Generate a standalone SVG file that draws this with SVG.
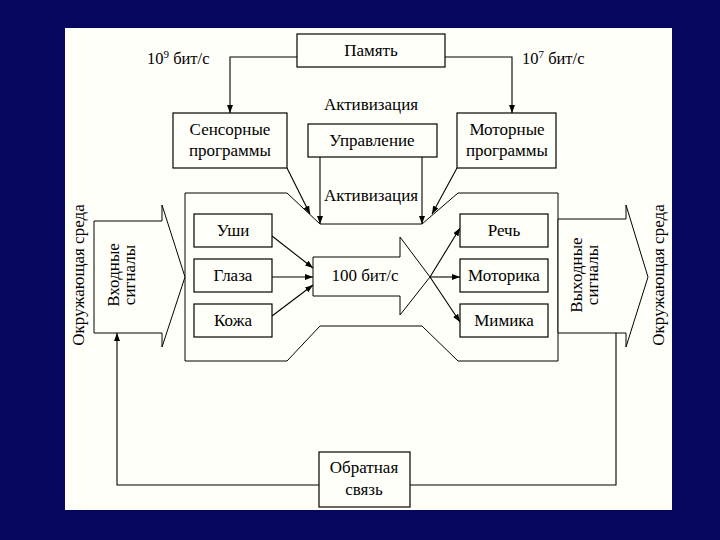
<svg xmlns="http://www.w3.org/2000/svg" width="720" height="540" viewBox="0 0 720 540">
<defs>
<marker id="ah" markerWidth="8" markerHeight="6" refX="8" refY="3" orient="auto" markerUnits="userSpaceOnUse">
<path d="M0,0 L8,3 L0,6 z" fill="#000"/>
</marker>
<style>
.bx{fill:#fffffa;stroke:#000;stroke-width:1.2}
.sh{fill:#fffffa;stroke:#000;stroke-width:1}
.ln{fill:none;stroke:#000;stroke-width:1.1}
.t{font-family:"Liberation Serif","DejaVu Serif",serif;font-size:17px;fill:#000;text-anchor:middle;dominant-baseline:central}
.ts{font-family:"Liberation Serif","DejaVu Serif",serif;font-size:16.5px;fill:#000}
</style>
</defs>
<rect x="0" y="0" width="720" height="540" fill="#06065e"/>
<rect x="65" y="28" width="607" height="482" fill="#fffffa"/>

<g id="shapes">
<polygon class="sh" points="185,193 287,193 320,224 422,224 458,193 558,193 558,361 458,361 422,326 320,326 287,361 185,361"/>
<polygon class="sh" points="94,221 162,221 162,205 185,277 162,347 162,333 94,333" stroke-width="1.3"/>
<polygon class="sh" points="558,219 626,219 626,205 648,277 626,347 626,333 558,333" stroke-width="1.3"/>
<polygon class="sh" points="313,257 400,257 400,237 430,277 400,315 400,296 313,296" stroke-width="1.3"/>
</g>

<g id="connectors">
<polyline class="ln" points="297,57 230,57 230,113" marker-end="url(#ah)"/>
<polyline class="ln" points="445,57 512,57 512,113" marker-end="url(#ah)"/>
<line class="ln" x1="287" y1="168" x2="310" y2="214" marker-end="url(#ah)"/>
<line class="ln" x1="457" y1="168" x2="432" y2="214" marker-end="url(#ah)"/>
<line class="ln" x1="320" y1="157" x2="320" y2="224" stroke-width="1.6" marker-end="url(#ah)"/>
<line class="ln" x1="422" y1="157" x2="422" y2="224" marker-end="url(#ah)"/>
<line class="ln" x1="272" y1="236" x2="313" y2="268" marker-end="url(#ah)"/>
<line class="ln" x1="272" y1="277" x2="313" y2="277" marker-end="url(#ah)"/>
<line class="ln" x1="272" y1="316" x2="313" y2="285" marker-end="url(#ah)"/>
<line class="ln" x1="430" y1="277" x2="460" y2="228" marker-end="url(#ah)"/>
<line class="ln" x1="430" y1="277" x2="460" y2="277" marker-end="url(#ah)"/>
<line class="ln" x1="430" y1="277" x2="460" y2="322" marker-end="url(#ah)"/>
<polyline class="ln" points="319,485 117,485 117,333" marker-end="url(#ah)"/>
<polyline class="ln" points="410,485 616,485 616,333"/>
</g>

<g id="pamyat"><rect class="bx" x="297" y="34" width="148" height="33"/><text class="t" x="371" y="50">Память</text></g>
<g id="rate-left"><text class="ts" x="147" y="64">10<tspan font-size="11" dy="-6">9</tspan><tspan dy="6"> бит/с</tspan></text></g>
<g id="rate-right"><text class="ts" x="522" y="64">10<tspan font-size="11" dy="-6">7</tspan><tspan dy="6"> бит/с</tspan></text></g>
<g id="sensornye"><rect class="bx" x="173" y="113" width="114" height="55"/><text class="t" x="230" y="129">Сенсорные</text><text class="t" x="230" y="150">программы</text></g>
<g id="motornye"><rect class="bx" x="457" y="113" width="99" height="55"/><text class="t" x="507" y="129">Моторные</text><text class="t" x="507" y="150">программы</text></g>
<g id="aktiv-top"><text class="t" x="371" y="104">Активизация</text></g>
<g id="upravlenie"><rect class="bx" x="308" y="124" width="129" height="33"/><text class="t" x="372" y="140">Управление</text></g>
<g id="aktiv-mid"><text class="t" x="371" y="195">Активизация</text></g>
<g id="ushi"><rect class="bx" x="194" y="214" width="78" height="33"/><text class="t" x="233" y="230">Уши</text></g>
<g id="glaza"><rect class="bx" x="194" y="259" width="78" height="33"/><text class="t" x="233" y="275">Глаза</text></g>
<g id="kozha"><rect class="bx" x="194" y="304" width="78" height="33"/><text class="t" x="233" y="320">Кожа</text></g>
<g id="rate-mid"><text class="t" x="365" y="275">100 бит/с</text></g>
<g id="rech"><rect class="bx" x="460" y="214" width="88" height="33"/><text class="t" x="504" y="230">Речь</text></g>
<g id="motorika"><rect class="bx" x="460" y="259" width="88" height="33"/><text class="t" x="504" y="275">Моторика</text></g>
<g id="mimika"><rect class="bx" x="460" y="304" width="88" height="33"/><text class="t" x="504" y="320">Мимика</text></g>
<g id="vhod"><text class="t" transform="translate(113,275) rotate(-90)">Входные</text><text class="t" transform="translate(129,275) rotate(-90)">сигналы</text></g>
<g id="vyhod"><text class="t" transform="translate(576,275) rotate(-90)">Выходные</text><text class="t" transform="translate(592,275) rotate(-90)">сигналы</text></g>
<g id="sreda-left"><text class="t" font-size="18.5" transform="translate(78,275) rotate(-90)">Окружающая среда</text></g>
<g id="sreda-right"><text class="t" font-size="18.5" transform="translate(658,275) rotate(-90)">Окружающая среда</text></g>
<g id="obratnaya"><rect class="bx" x="319" y="452" width="91" height="55"/><text class="t" x="364" y="467">Обратная</text><text class="t" x="364" y="489">связь</text></g>
</svg>
